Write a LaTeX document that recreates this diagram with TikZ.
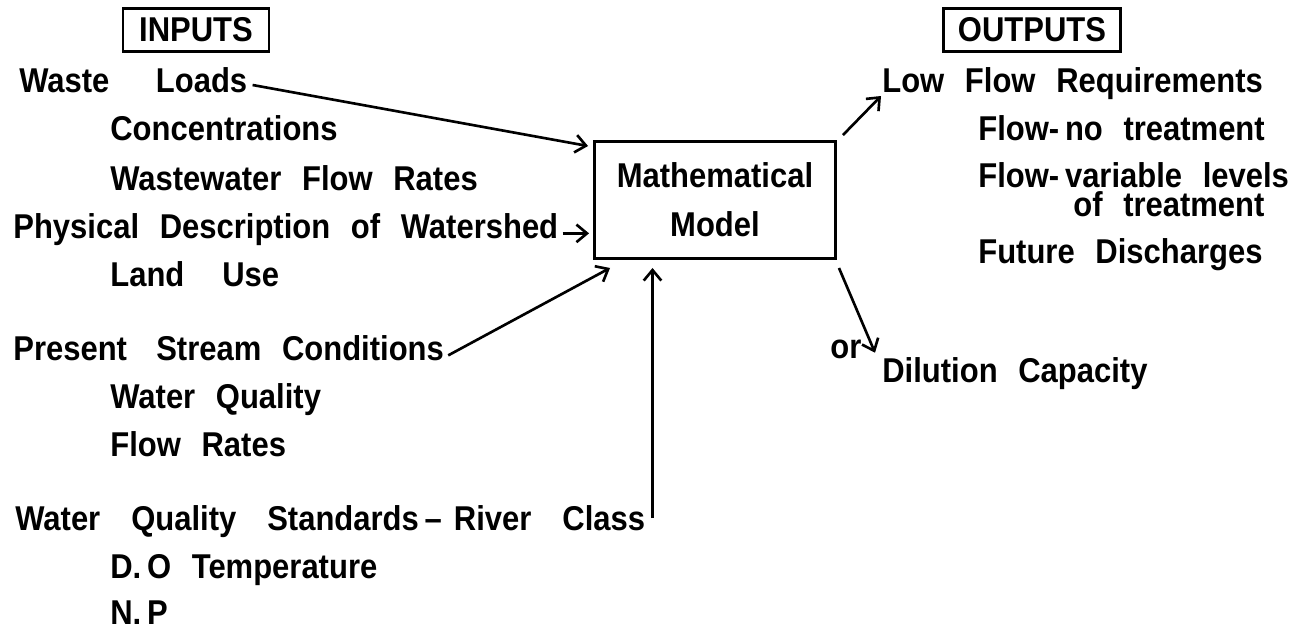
\documentclass[tikz,border=0pt]{standalone}
\usepackage{fontspec}
\setmainfont{Liberation Sans}[FakeStretch=0.9]
\usetikzlibrary{arrows.meta,calc,positioning}
\newcommand{\txtfont}{\bfseries\fontsize{19.6pt}{27.8pt}\selectfont\spaceskip=0.6em\relax}
\newcommand{\widefont}{\txtfont\spaceskip=0.9em\relax}

\begin{document}
\begin{tikzpicture}[x=0.02cm, y=-0.02cm,
  lbl/.style={anchor=base west, inner sep=0pt, font=\txtfont},
  hdr/.style={draw, line width=1.4pt, inner sep=0pt, minimum height=0.86cm, font=\txtfont},
  feed/.style={line width=1.5pt, -{Straight Barb[length=6pt, width=10pt, line width=1.5pt]}}]
  % page, pixel units
  \fill[white] (0,0) rectangle (1310,629);
  \useasboundingbox (0,0) rectangle (1310,629);

  % Headings
  \node[hdr, minimum width=2.92cm] (inputs) at (196,30) {INPUTS};
  \node[hdr, minimum width=3.54cm] (outputs) at (1032,30) {OUTPUTS};

  % Model box
  \node[draw, line width=1.7pt, minimum width=4.82cm, minimum height=2.34cm,
    align=center, font=\txtfont] (model) at (715,200) {Mathematical\\Model};

  % Inputs
  \node[lbl] (waste)     at (19,92)   {Waste\hspace{1.35em}Loads};
  \node[lbl] (conc)      at (110,140) {Concentrations};
  \node[lbl] (wwflow)    at (110,190) {Wastewater Flow Rates};
  \node[lbl] (phys)      at (13,238)  {Physical Description of Watershed};
  \node[lbl] (landuse)   at (110,286) {Land\hspace{1.1em}Use};
  \node[lbl] (present)   at (13,360)  {Present\hspace{0.85em}Stream Conditions};
  \node[lbl] (wqual)     at (110,408) {Water Quality};
  \node[lbl] (flowrates) at (110,456) {Flow Rates};
  \node[lbl, font=\widefont] (wqstd) at (15,530)
    {Water Quality Standards\,--\hspace{0.35em}River Class};
  \node[lbl] (dotemp)    at (110,578) {D.\,O Temperature};
  \node[lbl] (np)        at (110,624) {N.\,P};

  % Outputs
  \node[lbl] (lowflow)   at (882,92)  {Low Flow Requirements};
  \node[lbl] (notreat)   at (978,140) {Flow-\,no treatment};
  \node[lbl] (vartreat)  at (978,187) {Flow-\,variable levels};
  \node[lbl] (oftreat)   at (1073,216) {of treatment};
  \node[lbl] (future)    at (978,263) {Future Discharges};
  \node[lbl] (orlabel)   at (830,358) {or};
  \node[lbl] (dilution)  at (882,382) {Dilution Capacity};

  % Arrows into the model
  \draw[feed] ([shift={(5,-7)}]waste.base east) -- ([shift={(-5,6)}]model.north west);
  \draw[feed] ([shift={(4,0)}]phys.mid east) -- ($(model.west |- phys.mid east)+(-4,0)$);
  \draw[feed] ([shift={(4,0)}]present.mid east) -- ([shift={(17,8)}]model.south west);
  \coordinate (classtop) at ([shift={(7,-12)}]wqstd.base east);
  \draw[feed] (classtop) -- ($(classtop |- model.south)+(0,8)$);

  % Arrows out of the model
  \draw[feed] ([shift={(6,-5)}]model.north east) -- ([shift={(-1,4)}]lowflow.base west);
  \draw[feed] ([shift={(2,8)}]model.south east) -- ([shift={(-7,-4)}]dilution.north west);
\end{tikzpicture}
\end{document}
